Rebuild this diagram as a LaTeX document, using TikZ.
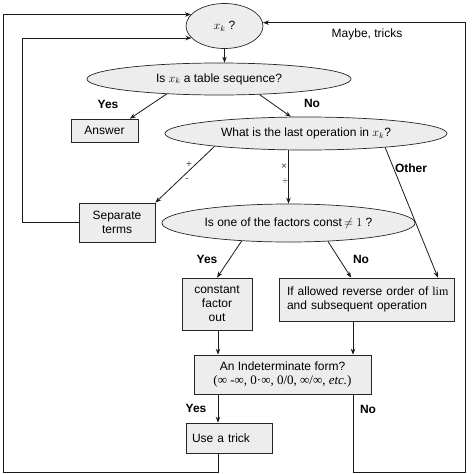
\documentclass[tikz,border=0pt]{standalone}
\usepackage{fontspec}
\setmainfont{Liberation Sans}
\newfontfamily\serifrm{Liberation Serif}
\usetikzlibrary{shapes.geometric,arrows.meta,calc}
\begin{document}
\begin{tikzpicture}[x=1pt,y=-1pt,
  font=\fontsize{12}{14}\selectfont,
  every node/.style={inner sep=1pt},
  oval/.style={ellipse,draw=black!85,fill=black!7,line width=0.7pt,inner sep=0pt},
  boxnode/.style={rectangle,draw=black!85,fill=black!7,line width=0.7pt,inner sep=2pt},
  conn/.style={draw=black!90,line width=0.8pt},
  arr/.style={conn,-{Stealth[length=6pt,width=4.5pt]}},
  lbl/.style={font=\fontsize{12}{14}\selectfont\bfseries},
  op/.style={font=\fontsize{10}{11}\selectfont,text=black!75}]
\useasboundingbox (0,0) rectangle (474,474);
% nodes
\node[oval,minimum width=77pt,minimum height=45pt] (top) at (224.5,26) {$x_k$ ?};
\node[oval,minimum width=264pt,minimum height=32pt] (tab) at (219,79) {Is $x_k$ a table sequence?};
\node[boxnode,minimum width=67pt,minimum height=23pt] (ans) at (104.5,130.5) {Answer};
\node[oval,minimum width=282pt,minimum height=33pt] (lastop) at (306,133.5) {What is the last operation in $x_k$?};
\node[boxnode,minimum width=76pt,minimum height=39pt,align=center] (sep) at (117,222.5) {Separate\\terms};
\node[oval,minimum width=253pt,minimum height=38pt] (fac) at (288.5,223) {Is one of the factors const$\,\neq 1$ ?};
\node[boxnode,minimum width=70pt,minimum height=52pt,align=center] (cfo) at (217,304) {constant\\factor\\out};
\node[boxnode,minimum width=175pt,minimum height=43pt,text width=169pt,align=left] (rev) at (366.5,299.5) {\hspace*{5pt}If allowed reverse order of {\serifrm lim}\\\hspace*{5pt}and subsequent operation};
\node[boxnode,minimum width=177pt,minimum height=39pt,align=center] (ind) at (282.5,374.5) {An Indeterminate form?\\{\serifrm\fontsize{13}{15}\selectfont (∞ -∞, 0·∞, 0/0, ∞/∞, \textit{etc.})}};
\node[boxnode,minimum width=86pt,minimum height=30pt,text width=74pt,align=left] (trick) at (229,438) {Use a trick};
% helper coordinates
\coordinate (colL) at (218,0);
\coordinate (colR) at (353,0);
\coordinate (bl) at (3,472);
\coordinate (br) at (465,472);
\coordinate (l2) at (22,0);
% connectors
\draw[arr] (top.south) -- (top.south |- tab.north);
\draw[arr] (tab.196) -- (ans.25);
\draw[arr] (tab.-21) -- (lastop.132);
\draw[arr] (lastop.188) -- (sep.north east);
\draw[arr] (fac.north |- lastop.south) -- (fac.north);
\draw[arr] (lastop.-10.5) -- (rev.17.2);
\draw[arr] (fac.201) -- (cfo.north);
\draw[arr] (fac.-25) -- (rev.125.8);
\draw[arr] (colL |- cfo.south) -- (colL |- ind.north);
\draw[arr] (colR |- rev.south) -- (colR |- ind.north);
\draw[arr] (colL |- ind.south) -- (colL |- trick.north);
\draw[arr] (colL |- trick.south) -- (colL |- bl) -- (bl) -- (bl |- top.161) -- (top.161);
\draw[arr] (sep.west) -- (l2 |- sep.west) -- (l2 |- top.200) -- (top.200);
\draw[arr] (colR |- ind.south) -- (colR |- br) -- (br) -- (br |- top.5) -- (top.5);
% labels
\node (mt) at (367,34) {Maybe, tricks};
\node[lbl] (y1) at (108,104) {Yes};
\node[lbl] (n1) at (312,103) {No};
\node[op] (plus) at (189,165) {+};
\node[op] (minus) at (187,180) {-};
\node[op] (times) at (284,167) {×};
\node[op] (divi) at (285,182) {÷};
\node[lbl] (oth) at (411,168) {Other};
\node[lbl] (y2) at (207,259) {Yes};
\node[lbl] (n2) at (361,259) {No};
\node[lbl] (y3) at (196,408) {Yes};
\node[lbl] (n3) at (368,409) {No};
\end{tikzpicture}
\end{document}
